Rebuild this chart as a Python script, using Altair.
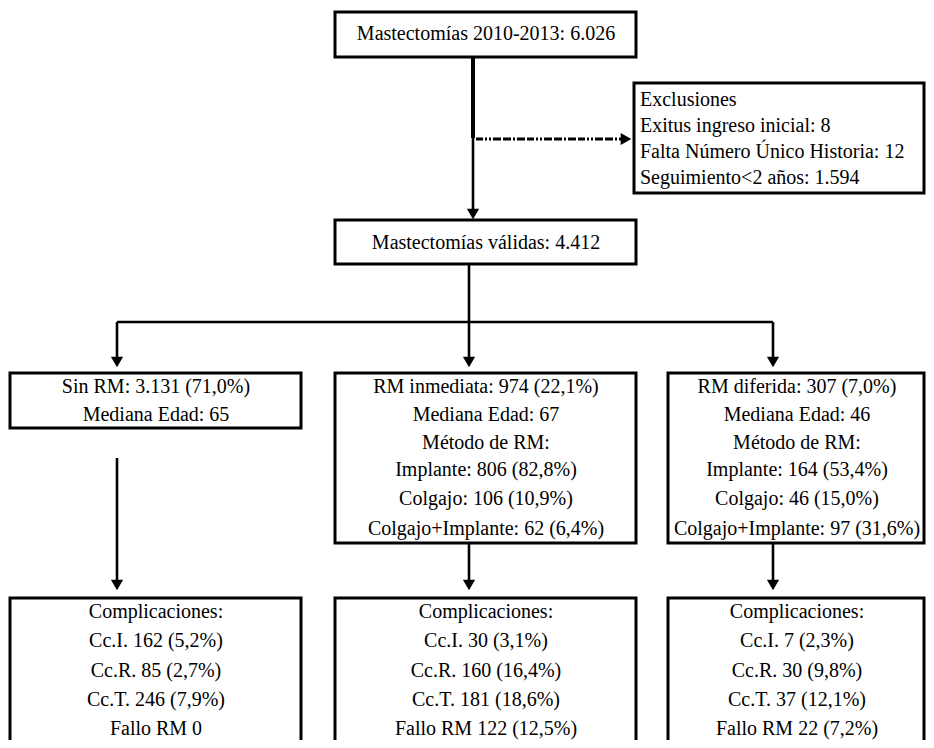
import altair as alt
import pandas as pd

# ---------------- content ----------------
total_label = "Mastectomías 2010-2013: 6.026"
exclusion_lines = [
    "Exclusiones",
    "Exitus ingreso inicial: 8",
    "Falta Número Único Historia: 12",
    "Seguimiento<2 años: 1.594",
]
valid_label = "Mastectomías válidas: 4.412"

groups = ["Sin RM", "RM inmediata", "RM diferida"]
group_n = ["3.131", "974", "307"]
group_pct = ["71,0%", "22,1%", "7,0%"]
median_age = [65, 67, 46]

method_names = ["Implante", "Colgajo", "Colgajo+Implante"]
method_n = [None, ["806", "106", "62"], ["164", "46", "97"]]
method_pct = [None, ["82,8%", "10,9%", "6,4%"], ["53,4%", "15,0%", "31,6%"]]

compl_names = ["Cc.I.", "Cc.R.", "Cc.T."]
compl_n = [["162", "85", "246"], ["30", "160", "181"], ["7", "30", "37"]]
compl_pct = [["5,2%", "2,7%", "7,9%"], ["3,1%", "16,4%", "18,6%"], ["2,3%", "9,8%", "12,1%"]]
fallo_n = ["0", "122", "22"]
fallo_pct = [None, "12,5%", "7,2%"]

# ---------------- layout (pixel grid of the reference) ----------------
col_box_x = [(10, 301), (335, 636), (668, 924)]
col_text_x = [156, 486, 797]
col_arrow_x = [117, 469, 773]

group_line_y = [387, 415, 443, 470, 499, 529]
compl_line_y = [612, 641, 671, 700, 729]
excl_line_y = [100, 126, 152, 178]

FONT = "Liberation Serif"
FS = 20

# ---------------- build tables ----------------
boxes = pd.DataFrame([
    dict(x=335, x2=636, y=12, y2=57),
    dict(x=634, x2=924, y=83, y2=193),
    dict(x=335, x2=636, y=220, y2=264),
    dict(x=col_box_x[0][0], x2=col_box_x[0][1], y=373, y2=428),
    dict(x=col_box_x[1][0], x2=col_box_x[1][1], y=373, y2=543),
    dict(x=col_box_x[2][0], x2=col_box_x[2][1], y=373, y2=543),
    dict(x=col_box_x[0][0], x2=col_box_x[0][1], y=598, y2=770),
    dict(x=col_box_x[1][0], x2=col_box_x[1][1], y=598, y2=770),
    dict(x=col_box_x[2][0], x2=col_box_x[2][1], y=598, y2=770),
])

segs = [
    dict(x=473, y=57, x2=473, y2=138, w=4),
    dict(x=473, y=138, x2=473, y2=212, w=2.6),
    dict(x=469, y=264, x2=469, y2=322, w=2.6),
    dict(x=col_arrow_x[0], y=322, x2=col_arrow_x[2], y2=322, w=2.6),
]
for ax in col_arrow_x:
    segs.append(dict(x=ax, y=322, x2=ax, y2=360, w=2.6))
segs.append(dict(x=col_arrow_x[0], y=458, x2=col_arrow_x[0], y2=583, w=2.6))
segs.append(dict(x=col_arrow_x[1], y=543, x2=col_arrow_x[1], y2=583, w=2.6))
segs.append(dict(x=col_arrow_x[2], y=543, x2=col_arrow_x[2], y2=583, w=2.6))
segs = pd.DataFrame(segs)

dash = pd.DataFrame([dict(x=476, y=139, x2=622, y2=139)])

tips_down = pd.DataFrame([dict(x=473, y=219)] +
                         [dict(x=ax, y=367) for ax in col_arrow_x] +
                         [dict(x=ax, y=590) for ax in col_arrow_x])
tips_right = pd.DataFrame([dict(x=632, y=139)])

center_text = [dict(x=486, y=34, t=total_label), dict(x=486, y=243, t=valid_label)]
for i in range(3):
    lines = [f"{groups[i]}: {group_n[i]} ({group_pct[i]})", f"Mediana Edad: {median_age[i]}"]
    if method_n[i] is not None:
        lines.append("Método de RM:")
        for m, n, p in zip(method_names, method_n[i], method_pct[i]):
            lines.append(f"{m}: {n} ({p})")
    for ln, yy in zip(lines, group_line_y):
        center_text.append(dict(x=col_text_x[i], y=yy, t=ln))
    clines = ["Complicaciones:"]
    for c, n, p in zip(compl_names, compl_n[i], compl_pct[i]):
        clines.append(f"{c} {n} ({p})")
    clines.append(f"Fallo RM {fallo_n[i]}" + (f" ({fallo_pct[i]})" if fallo_pct[i] else ""))
    for ln, yy in zip(clines, compl_line_y):
        center_text.append(dict(x=col_text_x[i], y=yy, t=ln))
center_text = pd.DataFrame(center_text)

left_text = pd.DataFrame([dict(x=640, y=yy, t=t) for t, yy in zip(exclusion_lines, excl_line_y)])

# ---------------- scales ----------------
xs = alt.Scale(domain=[8, 926], nice=False, zero=False)
ys = alt.Scale(domain=[8, 740], nice=False, zero=False, reverse=True)
X = lambda f="x": alt.X(f"{f}:Q", scale=xs, axis=None)
Y = lambda f="y": alt.Y(f"{f}:Q", scale=ys, axis=None)

rects = alt.Chart(boxes).mark_rect(fill="white", stroke="black", strokeWidth=3, clip=True).encode(
    x=X(), x2="x2:Q", y=Y(), y2="y2:Q")

rules = alt.Chart(segs).mark_rule(color="black", strokeCap="butt").encode(
    x=X(), x2="x2:Q", y=Y(), y2="y2:Q",
    strokeWidth=alt.StrokeWidth("w:Q", scale=None, legend=None))

dashed = alt.Chart(dash).mark_rule(color="black", strokeWidth=3, strokeCap="butt",
                                   strokeDash=[7, 2, 2, 2, 2, 2, 8, 2, 8, 2, 2, 2, 8, 2]).encode(
    x=X(), x2="x2:Q", y=Y(), y2="y2:Q")

heads_down = alt.Chart(tips_down).mark_point(shape="triangle-down", filled=True, color="black",
                                             opacity=1, size=150, yOffset=-5).encode(x=X(), y=Y())
heads_right = alt.Chart(tips_right).mark_point(shape="triangle-right", filled=True, color="black",
                                               opacity=1, size=150, xOffset=-6).encode(x=X(), y=Y())

ctext = alt.Chart(center_text).mark_text(font=FONT, fontSize=FS, color="black", align="center",
                                          baseline="middle").encode(x=X(), y=Y(), text="t:N")
ltext = alt.Chart(left_text).mark_text(font=FONT, fontSize=FS, color="black", align="left",
                                        baseline="middle").encode(x=X(), y=Y(), text="t:N")

chart = alt.layer(rules, dashed, rects, heads_down, heads_right, ctext, ltext).properties(
    width=918, height=732, padding=0, autosize="none",
    background="white",
).configure_view(stroke=None)

chart.save("out.html", embed_options={"renderer": "svg", "actions": False})
